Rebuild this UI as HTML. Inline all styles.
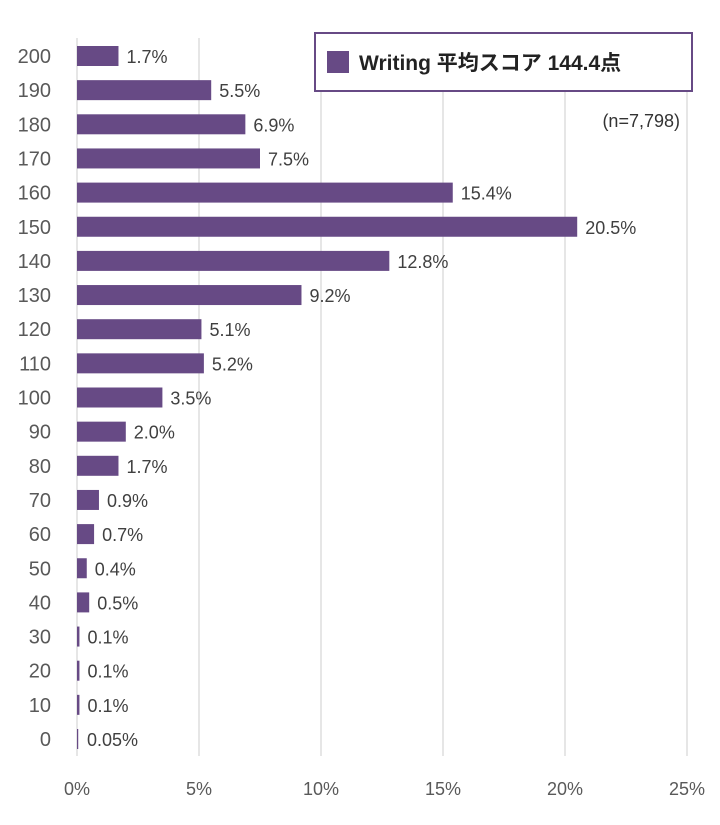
<!DOCTYPE html>
<html><head><meta charset="utf-8"><style>
body{margin:0;background:#fff;}
svg text{font-family:"Liberation Sans","Noto Sans CJK JP",sans-serif;}
</style></head><body>
<svg width="720" height="820" xmlns="http://www.w3.org/2000/svg">
<g id="grid"></g><g id="bars"></g><g id="labels"></g>
<g>
<rect x="315" y="33" width="377" height="58" fill="#fff" stroke="#674a85" stroke-width="2"/>
<rect x="327" y="51" width="22" height="22" fill="#674a85"/>
<text x="359" y="70" font-size="21" font-weight="bold" fill="#222">Writing 平均スコア 144.4点</text>
</g>
<text x="680" y="127" font-size="18" fill="#333" text-anchor="end">(n=7,798)</text>
</svg>
<script>
const categories=["200","190","180","170","160","150","140","130","120","110","100","90","80","70","60","50","40","30","20","10","0"];
const values=[1.7,5.5,6.9,7.5,15.4,20.5,12.8,9.2,5.1,5.2,3.5,2.0,1.7,0.9,0.7,0.4,0.5,0.1,0.1,0.1,0.05];
const valueLabels=["1.7%","5.5%","6.9%","7.5%","15.4%","20.5%","12.8%","9.2%","5.1%","5.2%","3.5%","2.0%","1.7%","0.9%","0.7%","0.4%","0.5%","0.1%","0.1%","0.1%","0.05%"];
const xTicks=[0,5,10,15,20,25];
const NS="http://www.w3.org/2000/svg";
const x=v=>77+v*24.4;
const y=i=>56+i*34.15;
function mk(tag,attrs,parent){const e=document.createElementNS(NS,tag);for(const k in attrs)e.setAttribute(k,attrs[k]);document.getElementById(parent).appendChild(e);return e;}
xTicks.forEach(t=>{
 const l=mk('line',{x1:x(t),x2:x(t),y1:38,y2:756,stroke:'#d9d9d9','stroke-width':1.3},'grid');
 
 
 const tx=mk('text',{x:x(t),y:795,'font-size':18,fill:'#595959','text-anchor':'middle'},'labels');
 tx.textContent=t+'%';
 
 
});
categories.forEach((c,i)=>{
 const r=mk('rect',{x:x(0),y:y(i)-10,width:Math.max(0,x(values[i])-x(0)),height:20,fill:'#674a85'},'bars');
 
 
 const yl=mk('text',{x:51,y:y(i)+7,'font-size':20,fill:'#595959','text-anchor':'end'},'labels');
 yl.textContent=c;
 
 
 const vl=mk('text',{x:Math.max(x(values[i]),x(0)+2)+8,y:y(i)+7,'font-size':18,fill:'#404040'},'labels');
 vl.textContent=valueLabels[i];
 
 
});
</script>
</body></html>
